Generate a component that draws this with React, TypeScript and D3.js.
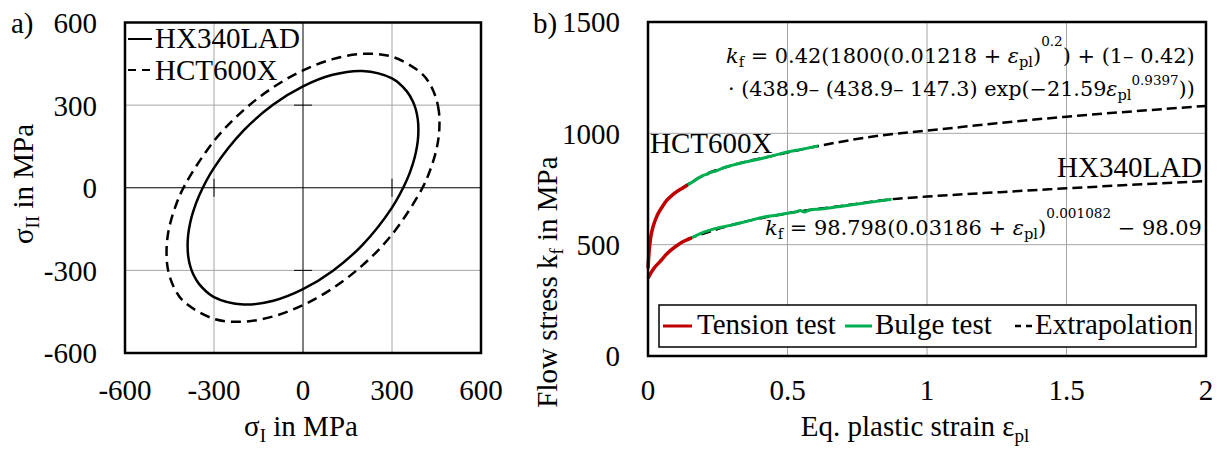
import React, { useRef, useEffect } from 'react';
import * as d3 from 'd3';

// ---- data ----
const locusTicks = [-600, -300, 0, 300, 600];
const materials = ['HX340LAD', 'HCT600X'];

// yield loci (sigma_I, sigma_II) in MPa, going round counter-clockwise
const hx340Locus: [number, number][] = [
  [389, 210], [387, 248], [380, 285], [370, 314], [350, 350], [300, 397], [200, 424],
  [100, 410], [0, 368], [-100, 302], [-200, 208], [-300, 72], [-350, -28], [-370, -86],
  [-380, -126], [-387, -170], [-389, -210], [-387, -248], [-380, -285], [-370, -314],
  [-350, -350], [-300, -397], [-200, -424], [-100, -410], [0, -368], [100, -302],
  [200, -208], [300, -72], [350, 28], [370, 86], [380, 126], [387, 170],
];
const hct600Locus: [number, number][] = [
  [460, 235], [458, 277], [450, 320], [430, 372], [400, 415], [300, 476], [200, 486],
  [100, 467], [0, 426], [-100, 365], [-200, 282], [-300, 170], [-400, 6], [-430, -68],
  [-450, -140], [-458, -191], [-460, -235], [-458, -277], [-450, -320], [-430, -372],
  [-400, -415], [-300, -476], [-200, -486], [-100, -467], [0, -426], [100, -365],
  [200, -282], [300, -170], [400, -6], [430, 68], [450, 140], [458, 191],
];

const strainTicks = [0, 0.5, 1, 1.5, 2];
const stressTicks = [0, 500, 1000, 1500];
const testLabels = ['Tension test', 'Bulge test', 'Extrapolation'];

// flow curves (strain, stress in MPa)
const hctTension: [number, number][] = [
  [0, 394], [0.004, 470], [0.01, 535], [0.02, 588], [0.031, 626], [0.05, 668],
  [0.067, 699], [0.085, 720], [0.103, 738], [0.125, 755], [0.142, 768],
];
const hctBulge: [number, number][] = [
  [0.142, 768], [0.17, 790], [0.2, 812], [0.215, 818], [0.225, 826], [0.24, 829],
  [0.27, 845], [0.3, 856], [0.33, 866], [0.4, 885], [0.45, 900], [0.5, 916],
  [0.55, 928], [0.61, 943],
];
const hctExtrap: [number, number][] = [
  [0.12, 752], [0.2, 812], [0.3, 856], [0.45, 900], [0.61, 943], [0.85, 993],
  [1.0, 1012], [1.25, 1045], [1.5, 1075], [1.75, 1100], [2.0, 1123],
];
const hxTension: [number, number][] = [
  [0, 349], [0.01, 372], [0.02, 392], [0.043, 424], [0.067, 458], [0.091, 484],
  [0.12, 510], [0.157, 531],
];
const hxBulge: [number, number][] = [
  [0.157, 531], [0.19, 551], [0.24, 572], [0.306, 590], [0.36, 607], [0.42, 625],
  [0.47, 634], [0.5, 641], [0.53, 647], [0.545, 654], [0.56, 647], [0.58, 656],
  [0.62, 660], [0.7, 674], [0.8, 691], [0.873, 704],
];
const hxExtrap: [number, number][] = [
  [0.14, 525], [0.3, 588], [0.5, 641], [0.7, 675], [0.873, 704], [1.0, 716],
  [1.25, 735], [1.5, 753], [1.75, 770], [2.0, 786],
];

const FONT = "'Liberation Serif', 'Times New Roman', serif";
const EQFONT = "'DejaVu Serif', serif";
const GRID = '#a6a6a6';
const RED = '#c00000';
const GREEN = '#00b050';

type Seg = [string, string];

const eq1: Seg[] = [['k', 'i'], ['f', 'sub'], [' = 0.42(1800(0.01218 + ', 'n'], ['ε', 'i'], ['pl', 'sub'],
  [')', 'n'], ['0.2', 'supHi'], [') + (1– 0.42)', 'n']];
const eq2: Seg[] = [['· (438.9– (438.9– 147.3) exp(−21.59', 'n'], ['ε', 'i'], ['pl', 'sub'],
  ['0.9397', 'sup'], ['))', 'n']];
const eq3: Seg[] = [['k', 'i'], ['f', 'sub'], [' = 98.798(0.03186 + ', 'n'], ['ε', 'i'], ['pl', 'sub'],
  [')', 'n'], ['0.001082', 'supHi'], [' − 98.09', 'n']];

const App = () => {
  const svgRef = useRef(null);

  useEffect(() => {
    const svg = d3.select(svgRef.current);
    svg.selectAll('*').remove();

    // ---------- panel a) ----------
    const xA = d3.scaleLinear().domain([-600, 600]).range([125, 481]);
    const yA = d3.scaleLinear().domain([-600, 600]).range([353, 22.5]);
    const a = svg.append('g');

    const inner = locusTicks.filter(v => Math.abs(v) === 300);
    inner.forEach(v => {
      a.append('line').attr('x1', xA(v)).attr('x2', xA(v)).attr('y1', yA(-600)).attr('y2', yA(600))
        .attr('stroke', GRID).attr('stroke-width', 1);
      a.append('line').attr('y1', yA(v)).attr('y2', yA(v)).attr('x1', xA(-600)).attr('x2', xA(600))
        .attr('stroke', GRID).attr('stroke-width', 1);
    });
    // zero axes with cross ticks
    a.append('line').attr('x1', xA(0)).attr('x2', xA(0)).attr('y1', yA(-600)).attr('y2', yA(600)).attr('stroke', '#000');
    a.append('line').attr('y1', yA(0)).attr('y2', yA(0)).attr('x1', xA(-600)).attr('x2', xA(600)).attr('stroke', '#000');
    inner.forEach(v => {
      a.append('line').attr('x1', xA(0) - 9).attr('x2', xA(0) + 9).attr('y1', yA(v)).attr('y2', yA(v)).attr('stroke', '#000');
      a.append('line').attr('y1', yA(0) - 9).attr('y2', yA(0) + 9).attr('x1', xA(v)).attr('x2', xA(v)).attr('stroke', '#000');
    });

    const locusLine = d3.line<[number, number]>()
      .x(d => xA(d[0])).y(d => yA(d[1]))
      .curve(d3.curveCatmullRomClosed.alpha(0.5));
    a.append('path').attr('d', locusLine(hx340Locus)).attr('fill', 'none')
      .attr('stroke', '#000').attr('stroke-width', 2.5);
    a.append('path').attr('d', locusLine(hct600Locus)).attr('fill', 'none')
      .attr('stroke', '#000').attr('stroke-width', 2.5).attr('stroke-dasharray', '10,6');

    a.append('rect').attr('x', xA(-600)).attr('y', yA(600)).attr('width', xA(600) - xA(-600))
      .attr('height', yA(-600) - yA(600)).attr('fill', 'none').attr('stroke', '#000').attr('stroke-width', 2.5);

    // legend a)
    a.append('line').attr('x1', 128).attr('x2', 152).attr('y1', 39).attr('y2', 39).attr('stroke', '#000').attr('stroke-width', 2);
    a.append('line').attr('x1', 128).attr('x2', 152).attr('y1', 70).attr('y2', 70).attr('stroke', '#000')
      .attr('stroke-width', 2).attr('stroke-dasharray', '8,6');
    materials.forEach((m, i) => {
      a.append('text').attr('x', 155).attr('y', 48 + i * 32).attr('font-family', FONT).attr('font-size', 29).text(m);
    });

    // tick labels a)
    locusTicks.forEach(v => {
      a.append('text').attr('x', 97).attr('y', yA(v)).attr('dy', '0.36em').attr('text-anchor', 'end')
        .attr('font-family', FONT).attr('font-size', 29).text(String(v));
      a.append('text').attr('x', xA(v)).attr('y', 400).attr('text-anchor', 'middle')
        .attr('font-family', FONT).attr('font-size', 29).text(String(v));
    });
    a.append('text').attr('x', 11).attr('y', 33).attr('font-family', FONT).attr('font-size', 29).text('a)');

    const xl = a.append('text').attr('x', 301).attr('y', 436).attr('text-anchor', 'middle')
      .attr('font-family', FONT).attr('font-size', 29);
    xl.append('tspan').text('σ');
    xl.append('tspan').attr('dy', 6).attr('font-size', 19).text('I');
    xl.append('tspan').attr('dy', -6).text(' in MPa');

    const yl = a.append('text').attr('transform', 'translate(33,184) rotate(-90)').attr('text-anchor', 'middle')
      .attr('font-family', FONT).attr('font-size', 29);
    yl.append('tspan').text('σ');
    yl.append('tspan').attr('dy', 6).attr('font-size', 19).text('II');
    yl.append('tspan').attr('dy', -6).text(' in MPa');

    // ---------- panel b) ----------
    const xB = d3.scaleLinear().domain([0, 2]).range([648, 1206]);
    const yB = d3.scaleLinear().domain([0, 1500]).range([356, 22]);
    const b = svg.append('g');

    strainTicks.slice(1, -1).forEach(v => {
      b.append('line').attr('x1', xB(v)).attr('x2', xB(v)).attr('y1', yB(0)).attr('y2', yB(1500))
        .attr('stroke', GRID).attr('stroke-width', 1);
    });
    stressTicks.slice(1, -1).forEach(v => {
      b.append('line').attr('y1', yB(v)).attr('y2', yB(v)).attr('x1', xB(0)).attr('x2', xB(2))
        .attr('stroke', GRID).attr('stroke-width', 1);
    });

    const flow = d3.line<[number, number]>().x(d => xB(d[0])).y(d => yB(d[1])).curve(d3.curveMonotoneX);
    [hctExtrap, hxExtrap].forEach(s => {
      b.append('path').attr('d', flow(s)).attr('fill', 'none').attr('stroke', '#000')
        .attr('stroke-width', 2.5).attr('stroke-dasharray', '10,5');
    });
    [hctBulge, hxBulge].forEach(s => {
      b.append('path').attr('d', flow(s)).attr('fill', 'none').attr('stroke', GREEN).attr('stroke-width', 3);
    });
    [hctTension, hxTension].forEach(s => {
      b.append('path').attr('d', flow(s)).attr('fill', 'none').attr('stroke', RED).attr('stroke-width', 3.5);
    });

    b.append('text').attr('x', 650).attr('y', 153).attr('font-family', FONT).attr('font-size', 29).text(materials[1]);
    b.append('text').attr('x', 1202).attr('y', 177).attr('text-anchor', 'end').attr('font-family', FONT)
      .attr('font-size', 29).text(materials[0]);

    // equations
    const drawEq = (segs: Seg[], x0: number, x1: number, y: number) => {
      const size = 20;
      const t = b.append('text').attr('x', x0).attr('y', y).attr('font-family', EQFONT).attr('font-size', size);
      let off = 0;
      segs.forEach(([s, kind]) => {
        const want = kind === 'sub' ? 4 : kind === 'sup' ? -11 : kind === 'supHi' ? -17 : 0;
        const fs = kind === 'sub' ? 14 : kind === 'sup' || kind === 'supHi' ? 13 : size;
        const sp = t.append('tspan').attr('dy', want - off).attr('font-size', fs).text(s);
        if (kind === 'i') sp.attr('font-style', 'italic');
        off = want;
      });
      const node = t.node() as SVGTextElement;
      const w = node.getComputedTextLength();
      if (w > 0) t.attr('transform', `translate(${x0},0) scale(${(x1 - x0) / w},1) translate(${-x0},0)`);
    };
    drawEq(eq1, 726, 1195, 63);
    drawEq(eq2, 728, 1195, 96);
    drawEq(eq3, 765, 1202, 235);

    // legend b)
    b.append('rect').attr('x', 659).attr('y', 305).attr('width', 537).attr('height', 42)
      .attr('fill', '#fff').attr('stroke', '#000').attr('stroke-width', 1.5);
    b.append('line').attr('x1', 663).attr('x2', 692).attr('y1', 326).attr('y2', 326).attr('stroke', RED).attr('stroke-width', 3);
    b.append('line').attr('x1', 845).attr('x2', 872).attr('y1', 326).attr('y2', 326).attr('stroke', GREEN).attr('stroke-width', 3);
    b.append('line').attr('x1', 1015).attr('x2', 1033).attr('y1', 326).attr('y2', 326).attr('stroke', '#000')
      .attr('stroke-width', 2.5).attr('stroke-dasharray', '6,5');
    [697, 875, 1035].forEach((x, i) => {
      b.append('text').attr('x', x).attr('y', 334).attr('font-family', FONT).attr('font-size', 29).text(testLabels[i]);
    });

    b.append('rect').attr('x', xB(0)).attr('y', yB(1500)).attr('width', xB(2) - xB(0))
      .attr('height', yB(0) - yB(1500)).attr('fill', 'none').attr('stroke', '#000').attr('stroke-width', 2.5);

    // ticks b)
    stressTicks.forEach(v => {
      b.append('text').attr('x', 620).attr('y', yB(v)).attr('dy', '0.36em').attr('text-anchor', 'end')
        .attr('font-family', FONT).attr('font-size', 29).text(String(v));
    });
    strainTicks.forEach(v => {
      b.append('text').attr('x', xB(v)).attr('y', 400).attr('text-anchor', 'middle')
        .attr('font-family', FONT).attr('font-size', 29).text(String(v));
    });
    b.append('text').attr('x', 533).attr('y', 33).attr('font-family', FONT).attr('font-size', 29).text('b)');

    const xl2 = b.append('text').attr('x', 915).attr('y', 436).attr('text-anchor', 'middle')
      .attr('font-family', FONT).attr('font-size', 29);
    xl2.append('tspan').text('Eq. plastic strain ε');
    xl2.append('tspan').attr('dy', 6).attr('font-size', 19).text('pl');

    const yl2 = b.append('text').attr('transform', 'translate(557,282) rotate(-90)').attr('text-anchor', 'middle')
      .attr('font-family', FONT).attr('font-size', 29);
    yl2.append('tspan').text('Flow stress k');
    yl2.append('tspan').attr('dy', 6).attr('font-size', 19).text('f');
    yl2.append('tspan').attr('dy', -6).text(' in MPa');
  }, []);

  return (
    <svg ref={svgRef} width={1217} height={449}
      style={{ position: 'absolute', left: 0, top: 0, background: '#fff' }} />
  );
};

export default App;
